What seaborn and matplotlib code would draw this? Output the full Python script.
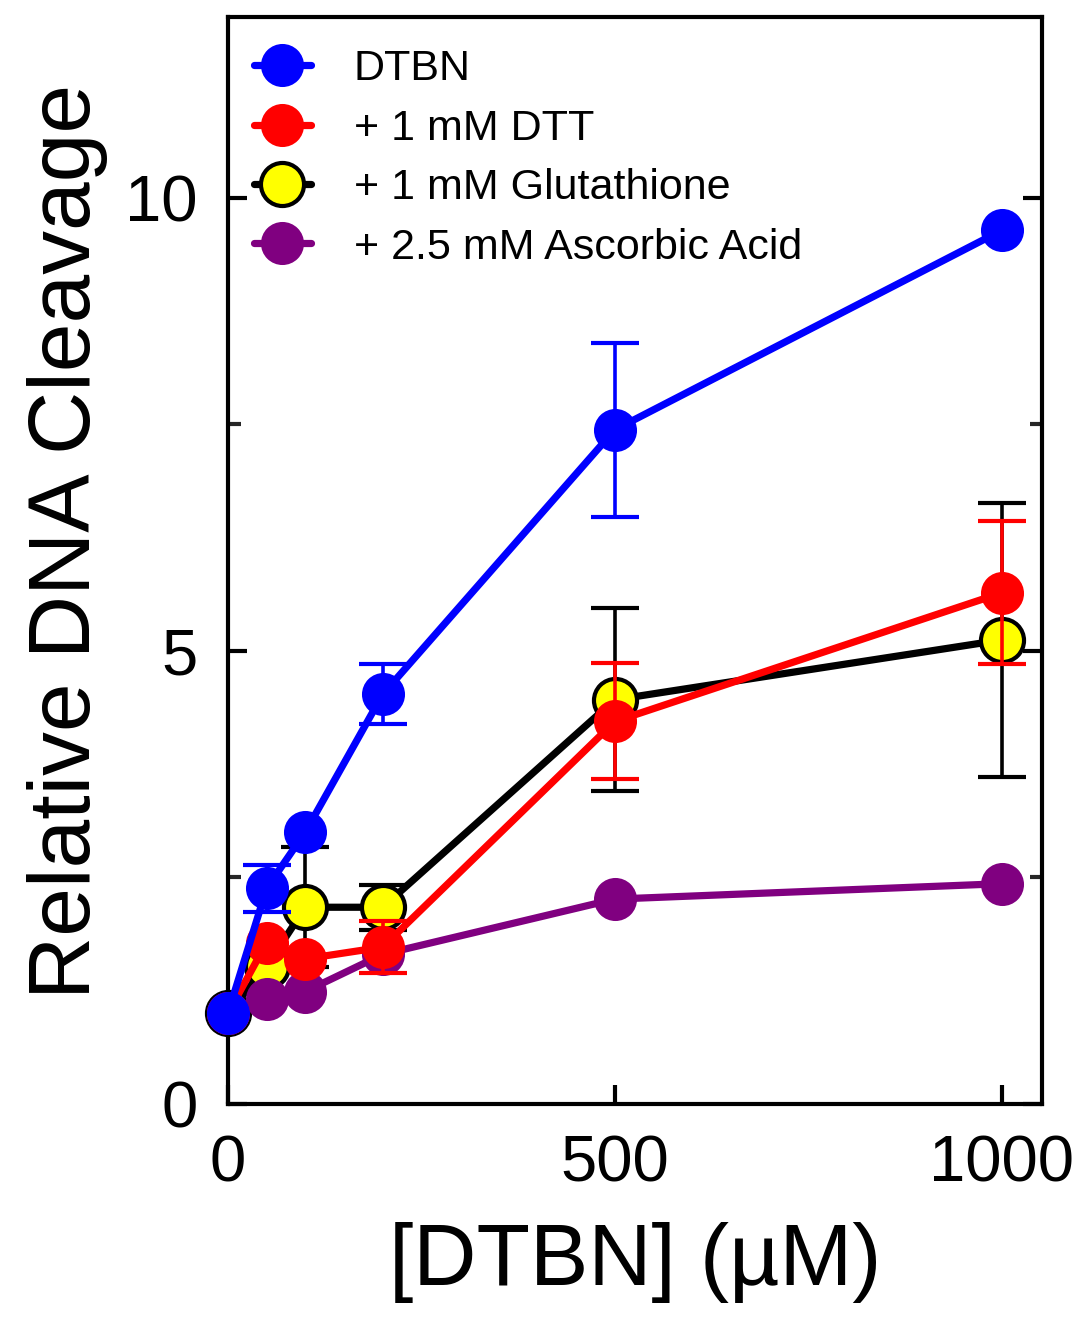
import matplotlib
matplotlib.use("Agg")
import matplotlib.pyplot as plt
import seaborn as sns
import pandas as pd
import numpy as np
from matplotlib.lines import Line2D

# ---- data ----
conc = [0, 50, 100, 200, 500, 1000]
dtbn = [1.0, 2.38, 3.0, 4.52, 7.44, 9.64]
dtbn_err = [0, 0.26, 0, 0.33, 0.96, 0]
dtt = [1.0, 1.78, 1.60, 1.73, 4.22, 5.64]
dtt_err = [0, 0, 0, 0.29, 0.64, 0.79]
gsh = [1.0, 1.52, 2.17, 2.17, 4.46, 5.12]
gsh_err = [0, 0, 0.66, 0.25, 1.01, 1.51]
asc = [1.0, 1.16, 1.24, 1.65, 2.26, 2.43]
asc_err = [0, 0, 0, 0, 0, 0]

labels = ["DTBN", "+ 1 mM DTT", "+ 1 mM Glutathione", "+ 2.5 mM Ascorbic Acid"]
xticks = [0, 500, 1000]
yticks = [0, 5, 10]

sns.set_theme(style="ticks")
plt.rcParams['font.family'] = ['Liberation Sans', 'DejaVu Sans']

fig = plt.figure(figsize=(10.82, 13.22), dpi=100)
ax = fig.add_axes([0.2107, 0.165, 0.7523, 0.8225])

series = [
    # label, y, err, line color, face color, edge color, zorder
    (labels[0], dtbn, dtbn_err, "#0000ff", "#0000ff", "#0000ff", 8),
    (labels[1], dtt, dtt_err, "#ff0000", "#ff0000", "#ff0000", 6),
    (labels[2], gsh, gsh_err, "#000000", "#ffff00", "#000000", 2),
    (labels[3], asc, asc_err, "#800080", "#800080", "#800080", 4),
]

MS = 31
LW = 5.2
handles = []
for lab, y, err, lc, fc, ec, z in series:
    df = pd.DataFrame({"conc": conc, "val": y})
    e = np.array(err)
    m = e > 0
    if m.any():
        ax.errorbar(np.array(conc)[m], np.array(y)[m], yerr=e[m], fmt="none",
                    ecolor=lc, elinewidth=2.6, capsize=17, capthick=3.0, zorder=z)
    mew = 3.0 if fc != ec else 0
    sns.lineplot(data=df, x="conc", y="val", ax=ax, color=lc, linewidth=LW,
                 marker="o", markersize=MS, markerfacecolor=fc,
                 markeredgecolor=ec, markeredgewidth=mew,
                 zorder=z + 1, legend=False, clip_on=False)
    handles.append(Line2D([0], [0], color=lc, linewidth=LW, marker="o",
                          markersize=MS, markerfacecolor=fc, markeredgecolor=ec,
                          markeredgewidth=mew, label=lab))

ax.set_xlim(0, 1052)
ax.set_ylim(0, 12.0)
ax.set_xticks(xticks)
ax.set_yticks(yticks)
ax.set_yticks([2.5, 7.5], minor=True)
ax.set_xticklabels([str(v) for v in xticks])
ax.set_yticklabels([str(v) for v in yticks])

for s in ["left", "right", "bottom", "top"]:
    ax.spines[s].set_linewidth(3.0)
    ax.spines[s].set_color("black")
    ax.spines[s].set_visible(True)

ax.tick_params(axis="both", which="major", direction="in", length=14, width=3,
               labelsize=47, pad=22, color="black", labelcolor="black")
ax.tick_params(axis="y", which="both", right=True, left=True)
ax.tick_params(axis="y", which="minor", direction="in", length=9, width=3)
ax.tick_params(axis="x", which="both", top=False)

ax.set_xlabel("[DTBN] (µM)", fontsize=63, labelpad=20, color="black")
ax.set_ylabel("Relative DNA Cleavage", fontsize=63, labelpad=12, color="black",
              y=0.517)

leg = ax.legend(handles=handles, loc="upper left", bbox_to_anchor=(0.0, 0.9935),
                frameon=False, fontsize=31, handlelength=1.32, handletextpad=1.0,
                labelspacing=0.45, markerscale=1.0, borderaxespad=0.2,
                borderpad=0.4)
for t in leg.get_texts():
    t.set_color("black")

fig.savefig("out.png", dpi=100)
